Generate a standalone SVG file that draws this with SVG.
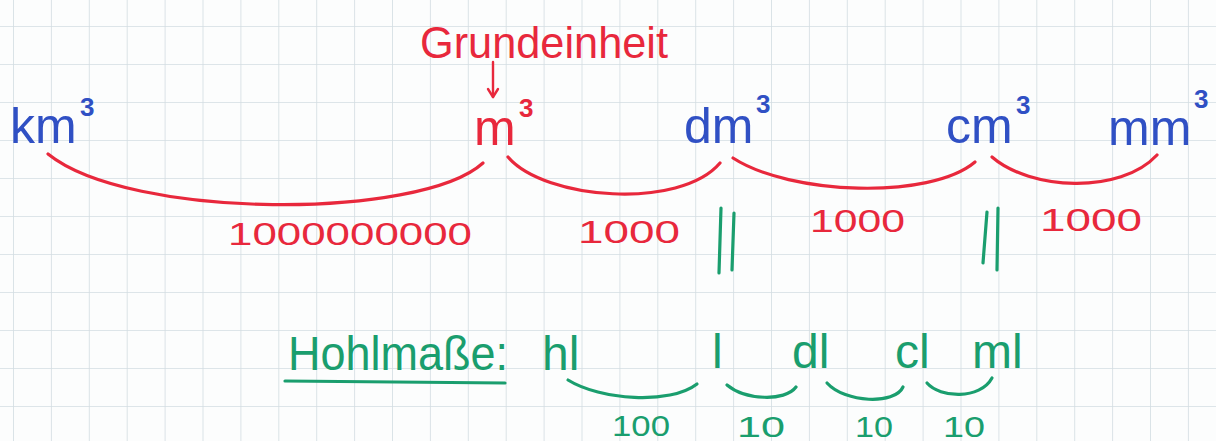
<svg xmlns="http://www.w3.org/2000/svg" width="1216" height="441" viewBox="0 0 1216 441">
<defs>
<pattern id="grid" x="13" y="26" width="37.9" height="38" patternUnits="userSpaceOnUse">
<path d="M0,0 V38 M0,0 H37.9" fill="none" stroke="#d3dde2" stroke-width="1.6"/>
</pattern>
<marker id="arr" markerWidth="14" markerHeight="14" refX="11" refY="7" orient="auto" markerUnits="userSpaceOnUse" viewBox="0 0 14 14">
<path d="M3,2 L11,7 L3,12" fill="none" stroke="#e8283c" stroke-width="2.4" stroke-linecap="round" stroke-linejoin="round"/>
</marker>
<style>
text{font-family:"Liberation Sans","DejaVu Sans",sans-serif;}
.blue{fill:#3050c4;}
.red{fill:#e8283c;}
.green{fill:#1a9e6e;}
.unit{font-size:50px;}
.sup{font-size:26px;font-weight:bold;}
.num{font-size:32px;}
.gtxt{font-size:48px;}
.gnum{font-size:30px;}
.rc{fill:none;stroke:#e8283c;stroke-width:3.2;stroke-linecap:round;}
.gc{fill:none;stroke:#1a9e6e;stroke-width:3.2;stroke-linecap:round;}
</style>
</defs>
<rect width="1216" height="441" fill="#fcfdfd"/>
<rect width="1216" height="441" fill="url(#grid)"/>

<g id="label-grundeinheit">
<text class="red" x="420" y="58" font-size="44" textLength="248" lengthAdjust="spacingAndGlyphs">Grundeinheit</text>
</g>

<g id="node-km3">
<text class="blue unit" x="10" y="143">km</text>
<text class="blue sup" x="80" y="116">3</text>
</g>
<g id="node-m3">
<text class="red unit" x="474" y="145">m</text>
<text class="red sup" x="519" y="117">3</text>
</g>
<g id="node-dm3">
<text class="blue unit" x="684" y="143">dm</text>
<text class="blue sup" x="756" y="113">3</text>
</g>
<g id="node-cm3">
<text class="blue unit" x="946" y="143">cm</text>
<text class="blue sup" x="1016" y="114">3</text>
</g>
<g id="node-mm3">
<text class="blue unit" x="1108" y="145">mm</text>
<text class="blue sup" x="1194" y="108">3</text>
</g>

<g id="node-hohlmasse">
<text class="green gtxt" x="288" y="370" textLength="220" lengthAdjust="spacingAndGlyphs">Hohlmaße:</text>
<path d="M285,381 L505,383" class="gc"/>
</g>
<g id="node-hl"><text class="green gtxt" x="542" y="370">hl</text></g>
<g id="node-l"><text class="green gtxt" x="712" y="368">l</text></g>
<g id="node-dl"><text class="green gtxt" x="792" y="368">dl</text></g>
<g id="node-cl"><text class="green gtxt" x="895" y="368">cl</text></g>
<g id="node-ml"><text class="green gtxt" x="972" y="368">ml</text></g>

<g id="connectors">
<path d="M493,62 L493,97" fill="none" stroke="#e8283c" stroke-width="2.4" stroke-linecap="round" marker-end="url(#arr)"/>
<path class="rc" d="M48,154 C130,220 420,220 483,163"/>
<path class="rc" d="M508,157 C545,200 680,210 720,163"/>
<path class="rc" d="M733,158 C790,195 930,200 975,162"/>
<path class="rc" d="M992,157 C1030,190 1120,195 1157,155"/>
<path class="gc" d="M721,208 L719,273 M734,213 L732,270"/>
<path class="gc" d="M987,212 L983,263 M998,208 L997,270"/>
<path class="gc" d="M568,380 C600,400 670,405 697,384"/>
<path class="gc" d="M727,385 C745,400 785,402 796,387"/>
<path class="gc" d="M827,383 C845,403 895,405 903,387"/>
<path class="gc" d="M927,383 C940,398 980,400 992,378"/>
</g>

<g id="labels-red">
<text class="red num" x="228" y="245" textLength="244" lengthAdjust="spacingAndGlyphs">1000000000</text>
<text class="red num" x="578" y="243" textLength="102" lengthAdjust="spacingAndGlyphs">1000</text>
<text class="red num" x="810" y="232" textLength="95" lengthAdjust="spacingAndGlyphs">1000</text>
<text class="red num" x="1040" y="231" textLength="102" lengthAdjust="spacingAndGlyphs">1000</text>
</g>
<g id="labels-green">
<text class="green gnum" x="612" y="436" textLength="58" lengthAdjust="spacingAndGlyphs">100</text>
<text class="green gnum" x="737" y="437" textLength="48" lengthAdjust="spacingAndGlyphs">10</text>
<text class="green gnum" x="855" y="437" textLength="38" lengthAdjust="spacingAndGlyphs">10</text>
<text class="green gnum" x="943" y="437" textLength="42" lengthAdjust="spacingAndGlyphs">10</text>
</g>
</svg>
